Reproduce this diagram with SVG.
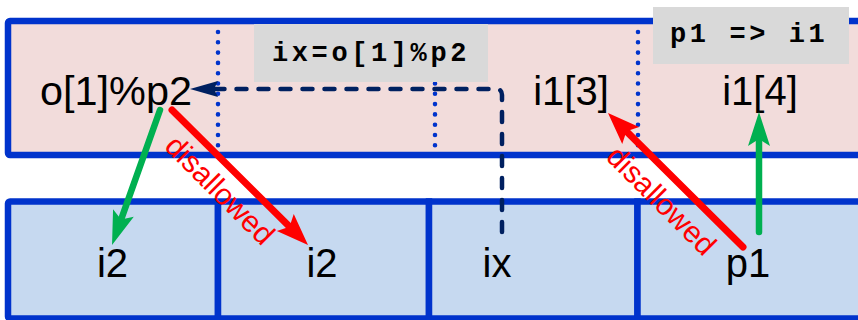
<svg xmlns="http://www.w3.org/2000/svg" width="858" height="320" viewBox="0 0 858 320">
  <style>
    .band-top { fill: #f2dcdb; stroke: #0033cc; stroke-width: 6.5; }
    .cell { fill: #c6d9f0; stroke: #0033cc; stroke-width: 6.5; }
    .dots { stroke: #0033cc; stroke-width: 4.6; stroke-linecap: round; stroke-dasharray: 0 10.3; fill: none; }
    .code-box { fill: #d9d9d9; }
    .code { font-family: "Liberation Mono", "Courier New", monospace; font-weight: bold; font-size: 27px; letter-spacing: 3.6px; fill: #000; }
    .label { font-family: "Liberation Sans", Arial, Helvetica, sans-serif; font-size: 40px; fill: #000; text-anchor: middle; }
    .note { font-family: "Liberation Sans", Arial, Helvetica, sans-serif; font-size: 30px; fill: #ff0000; text-anchor: middle; }
    .ok { stroke: #00b050; stroke-width: 6.5; stroke-linecap: round; fill: none; }
    .bad { stroke: #ff0000; stroke-width: 7; stroke-linecap: round; fill: none; }
    .ref { stroke: #002060; stroke-width: 4.5; stroke-linecap: round; stroke-dasharray: 10 12; fill: none; }
  </style>
  <defs>
    <marker id="head-green" markerUnits="userSpaceOnUse" orient="auto" overflow="visible" markerWidth="1" markerHeight="1" refX="0" refY="0">
      <path d="M22,0 L-12,-11 L-5,0 L-12,11 Z" fill="#00b050"/>
    </marker>
    <marker id="head-red" markerUnits="userSpaceOnUse" orient="auto" overflow="visible" markerWidth="1" markerHeight="1" refX="0" refY="0">
      <path d="M22,0 L-10,-12 L-4,0 L-10,12 Z" fill="#ff0000"/>
    </marker>
    <marker id="head-navy" markerUnits="userSpaceOnUse" orient="auto" overflow="visible" markerWidth="1" markerHeight="1" refX="0" refY="0">
      <path d="M22,0 L-6,-8 L-2,0 L-6,8 Z" fill="#002060"/>
    </marker>
  </defs>

  <!-- upper band -->
  <g id="upper-band">
    <rect class="band-top" x="8" y="21" width="900" height="134" rx="2"/>
    <line class="dots" x1="218" y1="32" x2="218" y2="150"/>
    <line class="dots" x1="435" y1="32" x2="435" y2="150"/>
    <line class="dots" x1="638" y1="32" x2="638" y2="150"/>
  </g>

  <!-- lower band cells -->
  <g id="cell-i2-a"><rect class="cell" x="8" y="201.5" width="210" height="117" rx="2"/><text class="label" x="112.5" y="277">i2</text></g>
  <g id="cell-i2-b"><rect class="cell" x="218" y="201.5" width="211" height="117"/><text class="label" x="322" y="277">i2</text></g>
  <g id="cell-ix"><rect class="cell" x="429" y="201.5" width="208.5" height="117"/><text class="label" x="497" y="277">ix</text></g>
  <g id="cell-p1"><rect class="cell" x="637.5" y="201.5" width="260" height="117"/><text class="label" x="748" y="277">p1</text></g>

  <!-- upper band entries -->
  <g id="node-o1p2"><text class="label" x="116" y="105" textLength="152" lengthAdjust="spacingAndGlyphs">o[1]%p2</text></g>
  <g id="node-i1-3"><text class="label" x="571" y="105">i1[3]</text></g>
  <g id="node-i1-4"><text class="label" x="760" y="105">i1[4]</text></g>

  <!-- code notes -->
  <g id="note-ix">
    <rect class="code-box" x="254" y="24" width="234" height="58"/>
    <text class="code" x="272" y="61">ix=o[1]%p2</text>
  </g>
  <g id="note-p1">
    <rect class="code-box" x="653" y="7" width="196" height="57"/>
    <text class="code" x="670" y="42">p1 =&gt; i1</text>
  </g>

  <!-- connectors -->
  <g id="connectors">
    <path class="ref" d="M502,232 V95 Q502,89 496,89 H212" marker-end="url(#head-navy)"/>
    <line class="ok" x1="160" y1="110" x2="119.4" y2="224.3" marker-end="url(#head-green)"/>
    <line class="ok" x1="759" y1="232" x2="759" y2="134" marker-end="url(#head-green)"/>
    <line class="bad" x1="172" y1="110" x2="292.4" y2="229.5" marker-end="url(#head-red)"/>
    <line class="bad" x1="743" y1="247" x2="623.6" y2="128.5" marker-end="url(#head-red)"/>
    <text class="note" transform="translate(236,174) rotate(45)" x="0" y="33">disallowed</text>
    <text class="note" transform="translate(679,183) rotate(45)" x="0" y="35">disallowed</text>
  </g>
</svg>
